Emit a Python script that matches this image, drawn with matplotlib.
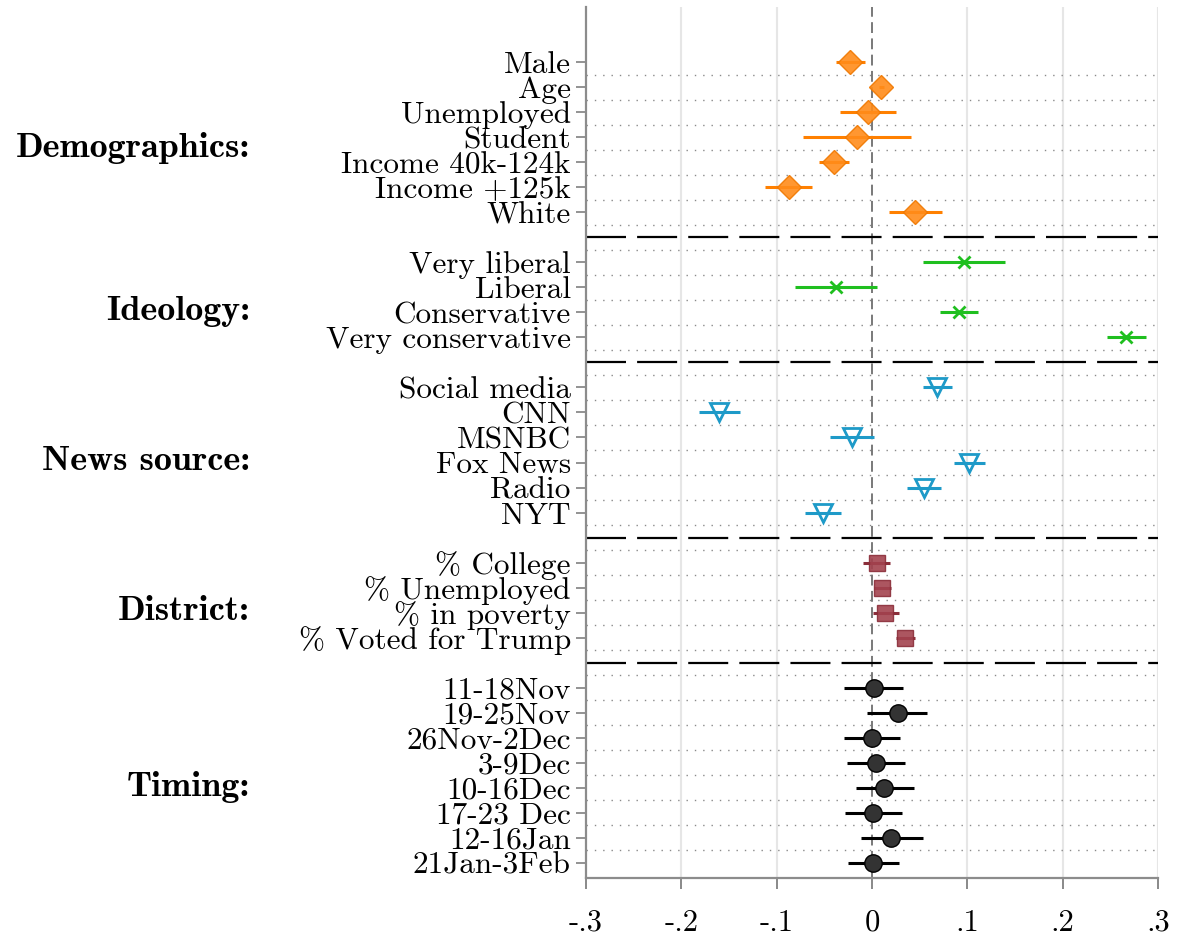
import matplotlib.pyplot as plt
import matplotlib.transforms as mtransforms

plt.rcParams['font.family'] = 'cmr10'
plt.rcParams['axes.unicode_minus'] = False

# coefficient estimates and 95% intervals, by block
demo_labels = ['Male', 'Age', 'Unemployed', 'Student', 'Income 40k-124k', 'Income +125k', 'White']
demo_coef = [-0.023, 0.009, -0.004, -0.016, -0.040, -0.087, 0.045]
demo_lo = [-0.038, 0.007, -0.034, -0.072, -0.056, -0.112, 0.018]
demo_hi = [-0.007, 0.013, 0.025, 0.041, -0.024, -0.063, 0.073]

ideo_labels = ['Very liberal', 'Liberal', 'Conservative', 'Very conservative']
ideo_coef = [0.096, -0.038, 0.091, 0.266]
ideo_lo = [0.054, -0.081, 0.071, 0.246]
ideo_hi = [0.139, 0.005, 0.111, 0.287]

news_labels = ['Social media', 'CNN', 'MSNBC', 'Fox News', 'Radio', 'NYT']
news_coef = [0.068, -0.160, -0.021, 0.102, 0.055, -0.051]
news_lo = [0.053, -0.181, -0.044, 0.086, 0.037, -0.070]
news_hi = [0.084, -0.139, 0.002, 0.119, 0.072, -0.033]

dist_labels = ['% College', '% Unemployed', '% in poverty', '% Voted for Trump']
dist_coef = [0.005, 0.010, 0.014, 0.035]
dist_lo = [-0.009, 0.002, 0.001, 0.025]
dist_hi = [0.019, 0.020, 0.028, 0.045]

time_labels = ['11-18Nov', '19-25Nov', '26Nov-2Dec', '3-9Dec', '10-16Dec',
               '17-23 Dec', '12-16Jan', '21Jan-3Feb']
time_coef = [0.002, 0.027, 0.000, 0.004, 0.013, 0.001, 0.020, 0.001]
time_lo = [-0.029, -0.005, -0.029, -0.026, -0.017, -0.028, -0.012, -0.025]
time_hi = [0.032, 0.058, 0.029, 0.035, 0.044, 0.031, 0.053, 0.028]

group_names = ['Demographics:', 'Ideology:', 'News source:', 'District:', 'Timing:']
x_ticks = [-0.3, -0.2, -0.1, 0, 0.1, 0.2, 0.3]
x_ticklabels = ['-.3', '-.2', '-.1', '0', '.1', '.2', '.3']

blocks = [
    (demo_labels, demo_coef, demo_lo, demo_hi,
     dict(marker='D', ms=12.5, mfc='#FF8C1A', mec='#F07800', color='#FF8000', alpha=0.9)),
    (ideo_labels, ideo_coef, ideo_lo, ideo_hi,
     dict(marker='x', ms=8, mew=2, color='#1FBF1F')),
    (news_labels, news_coef, news_lo, news_hi,
     dict(marker='v', ms=12.5, mew=2, mfc='none', mec='#1E9AC8', color='#1E9AC8')),
    (dist_labels, dist_coef, dist_lo, dist_hi,
     dict(marker='s', ms=12, mfc='#A3434F', mec='#8B2E3A', color='#8B2E3A', alpha=0.9)),
    (time_labels, time_coef, time_lo, time_hi,
     dict(marker='o', ms=12.5, mfc='#333333', mec='black', color='black')),
]

fig = plt.figure(figsize=(11.82, 9.39), dpi=100)
ax = fig.add_axes([0.4958, 0.0650, 0.4839, 0.9275])

ytick_pos, ytick_lab = [], []
separators = []
group_mid = []
row = 1
for i, (labels, coef, lo, hi, st) in enumerate(blocks):
    if i > 0:
        separators.append(row)
        row += 1
    rows = list(range(row, row + len(labels)))
    st = dict(st)
    col = st.pop('color')
    alpha = st.pop('alpha', 1.0)
    for r, c, l, h in zip(rows, coef, lo, hi):
        ax.plot([l, h], [r, r], color=col, lw=2.2, zorder=3, solid_capstyle='butt')
        ax.plot([c], [r], linestyle='none', color=col, alpha=alpha, zorder=4, **st)
    ytick_pos += rows
    ytick_lab += labels
    group_mid.append((rows[0] + rows[-1]) / 2)
    row += len(labels)

last = row - 1
ax.set_xlim(-0.3, 0.3)
ax.set_ylim(last + 0.6, -1.2)

# dotted guides between rows
for k in range(1, last):
    ax.axhline(k + 0.5, color='#8a8a8a', lw=1, linestyle=(0, (1, 5)), zorder=1)
# vertical grid and reference line at zero
for xv in x_ticks[1:]:
    if xv == 0:
        ax.axvline(0, color='#6e6e6e', lw=1.3, linestyle=(0, (6, 3)), zorder=2)
    else:
        ax.axvline(xv, color='#e6e6e6', lw=1.5, zorder=0)
# block separators
for s in separators:
    ax.axhline(s, color='black', lw=1.6, linestyle=(0, (18, 5)), zorder=2)

ax.set_yticks(ytick_pos)
ax.set_yticklabels(ytick_lab, fontsize=22.5)
ax.set_xticks(x_ticks)
ax.set_xticklabels(x_ticklabels, fontsize=22)
ax.tick_params(axis='y', length=7, width=1.2, color='#808080', pad=4)
ax.tick_params(axis='x', length=8, width=1.3, color='#808080', pad=14.5)

for side in ['top', 'right']:
    ax.spines[side].set_visible(False)
for side in ['left', 'bottom']:
    ax.spines[side].set_color('#8c8c8c')
    ax.spines[side].set_linewidth(1.6)

trans = mtransforms.blended_transform_factory(fig.transFigure, ax.transData)
for name, mid in zip(group_names, group_mid):
    ax.text(0.2115, mid + 0.45, name, transform=trans, ha='right', va='center',
            fontsize=26, family='cmb10')

fig.savefig('out.png', dpi=100)
